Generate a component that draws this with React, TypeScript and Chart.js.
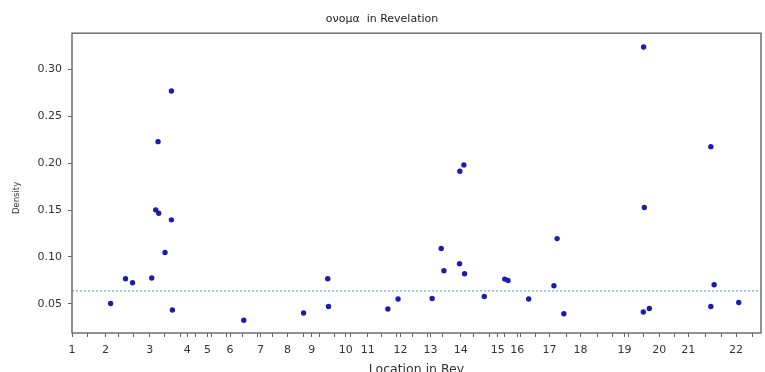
import React, { useEffect, useRef } from 'react';
import { Chart, registerables } from 'chart.js';

Chart.register(...registerables);

// Chapter start positions along the book (location units)
const chapterLabels = ['1', '2', '3', '4', '5', '6', '7', '8', '9', '10', '11', '12', '13', '14', '15', '16', '17', '18', '19', '20', '21', '22'];
const chapterStarts = [0, 33.5, 78, 115.5, 136, 158.5, 189, 216, 240.5, 274.5, 296.5, 329.5, 359.5, 390, 427, 446.5, 479, 510, 554, 589, 618, 666];
const minorTickStep = 15.5;
const locationMax = 691;

// Occurrence locations and densities
const locations = [38.7, 53.7, 60.7, 80, 86.3, 84, 87, 93.3, 99.7, 99.7, 100.7, 172.3, 232.3, 256.5, 257.3, 316.8, 327, 361.2, 370.3, 373, 388.7, 389, 393, 393.7, 413.5, 434, 437.3, 458, 483.3, 486.5, 493.3, 573.3, 574, 573, 579, 640.7, 640.7, 644, 668.7];
const densities = [0.0502, 0.0766, 0.0724, 0.0774, 0.2229, 0.1501, 0.1466, 0.1047, 0.2769, 0.1395, 0.0433, 0.0324, 0.0401, 0.0766, 0.0471, 0.0444, 0.0550, 0.0556, 0.1089, 0.0852, 0.0926, 0.1914, 0.1981, 0.0820, 0.0578, 0.0763, 0.0748, 0.0550, 0.0692, 0.1195, 0.0393, 0.3238, 0.1526, 0.0412, 0.0450, 0.2176, 0.0471, 0.0702, 0.0514];
const bookDensity = 0.0637;

const yTickValues = [0.05, 0.10, 0.15, 0.20, 0.25, 0.30];
const yMin = 0.0188;
const yMax = 0.3386;

const framePlugin = {
  id: 'frame',
  afterDraw(chart: any) {
    const { ctx, chartArea } = chart;
    ctx.save();
    ctx.strokeStyle = '#6f6f6f';
    ctx.lineWidth = 1.5;
    ctx.strokeRect(chartArea.left, chartArea.top, chartArea.right - chartArea.left, chartArea.bottom - chartArea.top);
    ctx.restore();
  },
};

export default function App() {
  const ref = useRef<HTMLCanvasElement | null>(null);

  useEffect(() => {
    document.body.style.margin = '0';
    const canvas = ref.current;
    if (!canvas) return;

    const points = locations.map((x, i) => ({ x, y: densities[i] }));
    const labelMap = new Map<number, string>();
    chapterStarts.forEach((v, i) => labelMap.set(v, chapterLabels[i]));

    const chart = new Chart(canvas, {
      type: 'scatter',
      data: {
        datasets: [
          {
            type: 'line',
            data: [
              { x: 0, y: bookDensity },
              { x: locationMax, y: bookDensity },
            ],
            borderColor: '#86bde0',
            borderWidth: 1.5,
            borderDash: [2, 2],
            pointRadius: 0,
            fill: false,
          } as any,
          {
            data: points,
            backgroundColor: '#1c1cb0',
            borderColor: '#1c1cb0',
            pointRadius: 2.7,
            pointBorderWidth: 0,
          },
        ],
      },
      plugins: [framePlugin],
      options: {
        animation: false,
        responsive: false,
        layout: { padding: { left: 0, right: 1, top: 0, bottom: 0 } },
        plugins: {
          legend: { display: false },
          tooltip: { enabled: false },
          title: {
            display: true,
            text: 'ονομα  in Revelation',
            color: '#222',
            font: { family: 'DejaVu Sans', size: 11, weight: 'normal' },
            padding: { top: 13, bottom: 7 },
          },
        },
        scales: {
          x: {
            type: 'linear',
            min: 0,
            max: locationMax,
            afterBuildTicks(scale: any) {
              const ticks: any[] = chapterStarts.map((v) => ({ value: v }));
              for (let v = 0; v <= locationMax; v += minorTickStep) {
                if (!chapterStarts.some((c) => Math.abs(c - v) < 3)) ticks.push({ value: v });
              }
              ticks.sort((a, b) => a.value - b.value);
              scale.ticks = ticks;
            },
            afterFit(scale: any) {
              scale.height = 39;
            },
            ticks: {
              autoSkip: false,
              maxRotation: 0,
              padding: 7,
              color: '#333',
              font: { family: 'DejaVu Sans', size: 11 },
              callback: (value: any) => labelMap.get(value as number) ?? '',
            },
            grid: { drawOnChartArea: false, drawTicks: true, tickLength: 4, color: '#666' },
            border: { display: false },
            title: {
              display: true,
              text: 'Location in Rev',
              color: '#333',
              font: { family: 'DejaVu Sans', size: 12.5 },
              padding: { top: 0, bottom: -5 },
            },
          },
          y: {
            type: 'linear',
            min: yMin,
            max: yMax,
            afterBuildTicks(scale: any) {
              scale.ticks = yTickValues.map((v) => ({ value: v }));
            },
            afterFit(scale: any) {
              scale.width = 72;
            },
            ticks: {
              padding: 6,
              color: '#333',
              font: { family: 'DejaVu Sans', size: 11 },
              callback: (value: any) => Number(value).toFixed(2),
            },
            grid: { drawOnChartArea: false, drawTicks: true, tickLength: 4, color: '#666' },
            border: { display: false },
            title: {
              display: true,
              text: 'Density           ',
              color: '#333',
              font: { family: 'DejaVu Sans', size: 8.5 },
              padding: { top: 12, bottom: 0 },
            },
          },
        },
      } as any,
    });

    return () => chart.destroy();
  }, []);

  return (
    <div style={{ width: 765, height: 372 }}>
      <canvas ref={ref} width={765} height={372} style={{ display: 'block' }} />
    </div>
  );
}
